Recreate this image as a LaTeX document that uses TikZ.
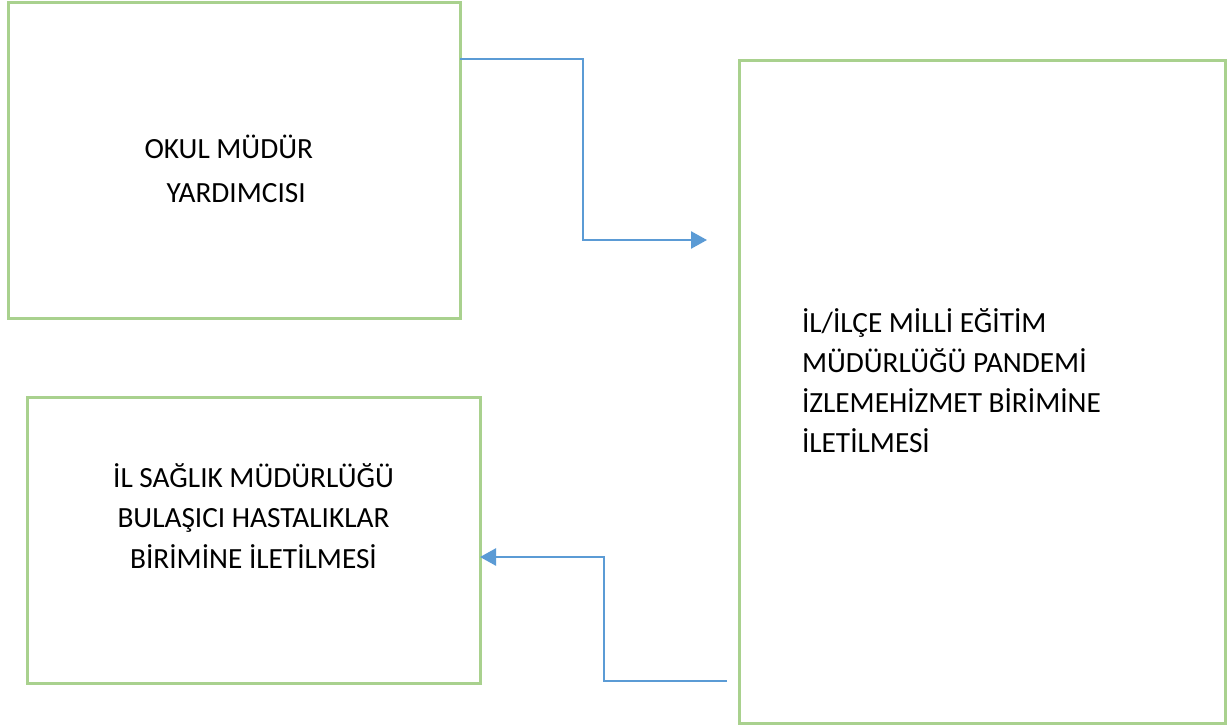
\documentclass[tikz,border=0pt]{standalone}
\usepackage{fontspec}
\setmainfont{Carlito}
\usetikzlibrary{arrows.meta}
\definecolor{boxgreen}{RGB}{169,209,142}
\definecolor{lineblue}{RGB}{91,155,213}
\begin{document}
\begin{tikzpicture}[x=1pt,y=-1pt,
  box/.style={draw=boxgreen,line width=3pt,inner sep=0pt,outer sep=0pt,fill=none},
  lbl/.style={inner sep=0pt,outer sep=0pt,font=\fontsize{29.3}{40.5}\selectfont},
  conn/.style={draw=lineblue,line width=2.5pt,-{Triangle[length=16pt,width=17pt]}}]
\useasboundingbox[fill=white] (0,0) rectangle (1227,726);
% boxes
\node[box,minimum width=452pt,minimum height=316pt] (b1) at (234,160) {};
\node[box,minimum width=486pt,minimum height=663pt] (b2) at (982,391.5) {};
\node[box,minimum width=453pt,minimum height=286pt] (b3) at (253.5,540) {};
% texts (base anchor = baseline of last line)
\node[lbl,align=left,anchor=base west,font=\fontsize{29.3}{44}\selectfont] (t1) at (144.5,202)
  {OKUL MÜDÜR\\\hspace*{22pt}YARDIMCISI};
\node[lbl,align=left,anchor=base west,font=\fontsize{29.3}{40}\selectfont] (t2) at (802,452)
  {İL/İLÇE MİLLİ EĞİTİM\\MÜDÜRLÜĞÜ PANDEMİ\\İZLEMEHİZMET BİRİMİNE\\İLETİLMESİ};
\node[lbl,align=center,anchor=base] (t3) at (253.5,568)
  {İL SAĞLIK MÜDÜRLÜĞÜ\\BULAŞICI HASTALIKLAR\\BİRİMİNE İLETİLMESİ};
% connectors
\coordinate (a1end) at (707,240);
\coordinate (a2start) at (727,681);
\draw[conn] ([yshift=-57pt]b1.north east) -| (583,150) |- (a1end);
\draw[conn] (a2start) -| (604,600) |- ([yshift=126pt]b3.south east);
\end{tikzpicture}
\end{document}
